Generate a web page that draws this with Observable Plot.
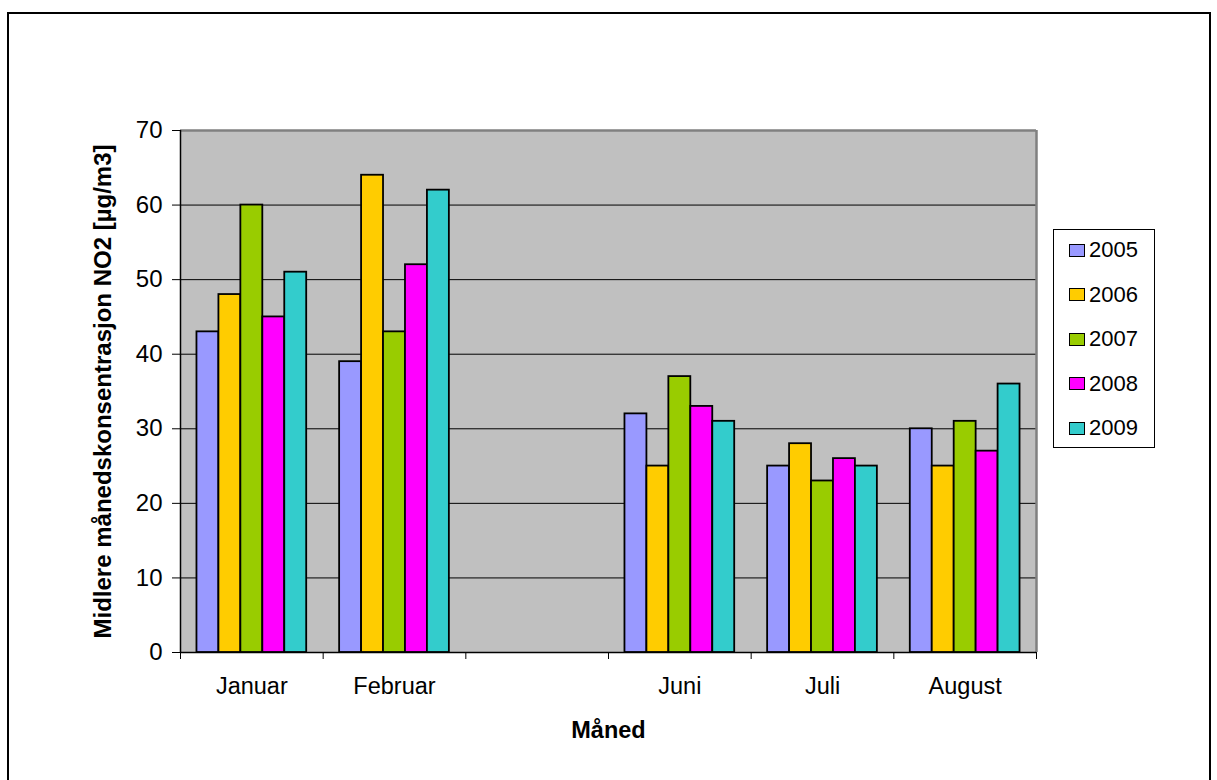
<!DOCTYPE html>
<html>
<head>
<meta charset="utf-8">
<script src="https://cdn.jsdelivr.net/npm/d3@7"></script>
<script src="https://cdn.jsdelivr.net/npm/@observablehq/plot@0.6"></script>
<style>
  html, body { margin: 0; padding: 0; background: white; overflow: hidden; }
  body { width: 1217px; height: 780px; position: relative; font-family: "Liberation Sans", Arial, sans-serif; }
  #border { position: absolute; left: 7px; top: 12px; width: 1204px; height: 820px; border: 2px solid black; box-sizing: border-box; }
  .layer { position: absolute; left: 0; top: 0; }
  .layer svg { display: block; }
  #legend { position: absolute; left: 1053px; top: 229px; width: 102px; height: 219px; border: 1px solid black; background: white; box-sizing: border-box; }
  .item { position: absolute; left: 15px; height: 22px; display: flex; align-items: center; font-size: 22px; color: black; }
  .sw { width: 14px; height: 11px; border: 1.5px solid black; margin-right: 4px; }
  [aria-label="y-axis label"] text, [aria-label="x-axis label"] text, text[aria-label="y-axis label"], text[aria-label="x-axis label"] { font-weight: bold; }
</style>
</head>
<body>
<div id="border"></div>
<div id="base" class="layer"></div>
<div id="bars" class="layer"></div>
<div id="legend"></div>
<script>
const months = ["Januar", "Februar", "", "Juni", "Juli", "August"];
const years = ["2005", "2006", "2007", "2008", "2009"];
const colors = ["#9999FF", "#FFCC00", "#99CC00", "#FF00FF", "#33CCCC"];
const v2005 = [43, 39, null, 32, 25, 30];
const v2006 = [48, 64, null, 25, 28, 25];
const v2007 = [60, 43, null, 37, 23, 31];
const v2008 = [45, 52, null, 33, 26, 27];
const v2009 = [51, 62, null, 31, 25, 36];
const yTicks = [0, 10, 20, 30, 40, 50, 60, 70];
const yLabel = "Midlere månedskonsentrasjon NO2 [µg/m3]";
const xLabel = "Måned";

const series = [v2005, v2006, v2007, v2008, v2009];
const rows = [];
months.forEach((m, i) => {
  years.forEach((y, j) => {
    const v = series[j][i];
    if (v != null) rows.push({month: m, year: y, value: v});
  });
});

const W = 1217, H = 780;
const common = {
  width: W, height: H,
  marginLeft: 180, marginRight: 181, marginTop: 130, marginBottom: 128,
  style: {fontFamily: "Liberation Sans, Arial, sans-serif", color: "black", background: "transparent", overflow: "visible"}
};

const boundaries = d3.range(months.length + 1);
const centers = months.map((m, i) => i + 0.5);

const base = Plot.plot({
  ...common,
  x: {type: "linear", domain: [0, months.length], axis: null},
  y: {domain: [0, 70], axis: null},
  marks: [
    Plot.frame({fill: "#C0C0C0", stroke: "none"}),
    Plot.ruleY([10, 20, 30, 40, 50, 60], {stroke: "black", strokeWidth: 1}),
    Plot.ruleY([70], {stroke: "#808080", strokeWidth: 2.5}),
    Plot.ruleX([months.length], {stroke: "#808080", strokeWidth: 2.5}),
    Plot.axisY({ticks: yTicks, tickSize: 8, tickPadding: 10, fontSize: 24,
      label: yLabel, labelAnchor: "center", labelArrow: "none", labelOffset: 87}),
    Plot.axisX({ticks: boundaries, tickSize: 7, tickFormat: () => "",
      label: xLabel, labelAnchor: "center", labelArrow: "none", labelOffset: 85, fontSize: 23.5}),
    Plot.axisX({ticks: centers, tickSize: 0, tickPadding: 25, fontSize: 23.5,
      tickFormat: d => months[Math.floor(d)], label: null}),
    Plot.ruleX([0], {stroke: "black", strokeWidth: 1.5}),
    Plot.ruleY([0], {stroke: "black", strokeWidth: 1.5})
  ]
});
document.getElementById("base").appendChild(base);

const bars = Plot.plot({
  ...common,
  fx: {domain: months, padding: 0, round: false, axis: null},
  x: {domain: years, paddingInner: 0, paddingOuter: 0.75, round: false, axis: null},
  y: {domain: [0, 70], axis: null},
  color: {domain: years, range: colors},
  marks: [
    Plot.barY(rows, {fx: "month", x: "year", y: "value", fill: "year", stroke: "black", strokeWidth: 1.8, inset: 0})
  ]
});
document.getElementById("bars").appendChild(bars);

const legend = document.getElementById("legend");
years.forEach((y, i) => {
  const it = document.createElement("div");
  it.className = "item";
  it.style.top = (9 + i * 44.5) + "px";
  const sw = document.createElement("div");
  sw.className = "sw";
  sw.style.background = colors[i];
  it.appendChild(sw);
  const t = document.createElement("span");
  t.textContent = y;
  it.appendChild(t);
  legend.appendChild(it);
});
</script>
</body>
</html>
